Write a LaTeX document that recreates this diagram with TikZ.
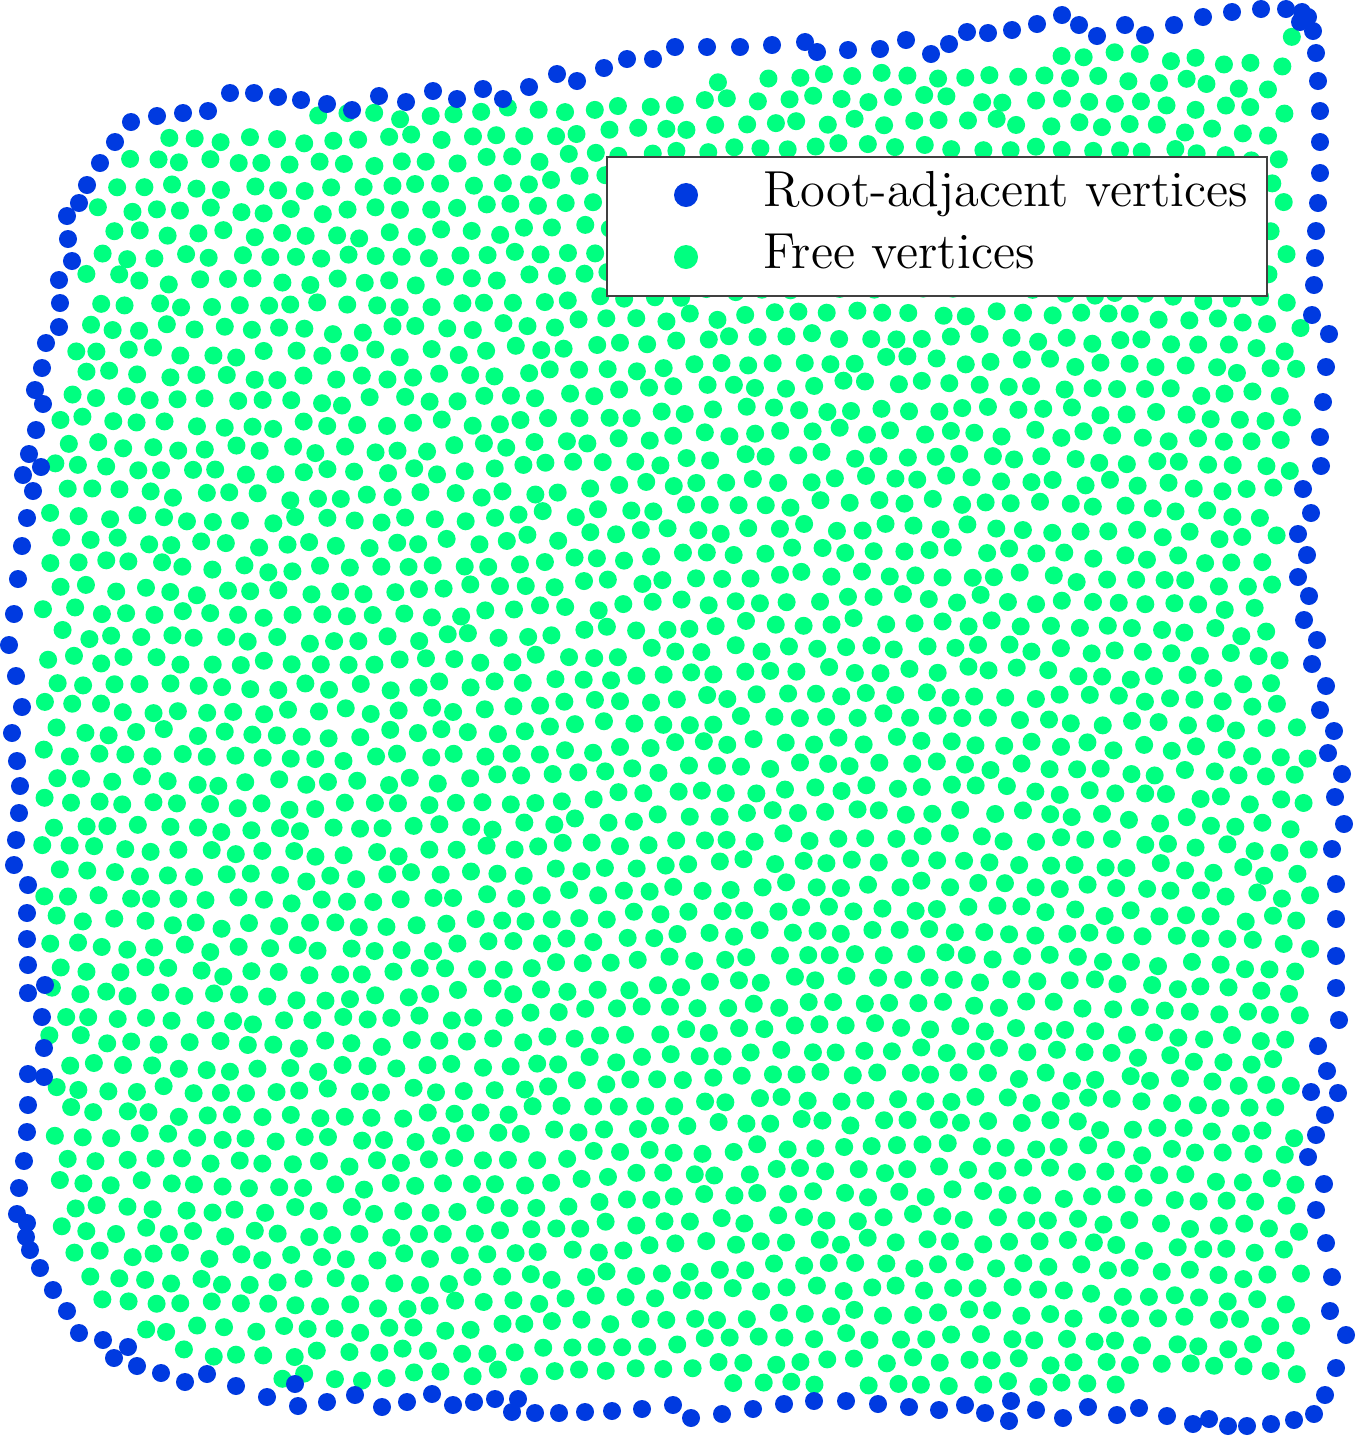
\documentclass[tikz,border=0pt]{standalone}
\usepackage{tikz}
\definecolor{rootblue}{RGB}{0,58,224}
\definecolor{freegreen}{RGB}{0,255,128}
\begin{document}
\begin{tikzpicture}[x=0.01cm, y=-0.01cm,
    rootdot/.style={fill=rootblue},
    freedot/.style={fill=freegreen},
    legendbox/.style={draw=black!75, fill=white, line width=0.6pt},
    legendtext/.style={anchor=base west, inner sep=0pt, font=\fontsize{14.4}{17}\selectfont}]
    \useasboundingbox (0,0) rectangle (1356,1436);
    \pgfmathsetseed{4711}

    \foreach \r in {0,...,58}{
      \foreach \c in {0,...,49}{
        \pgfmathsetmacro\gx{10 + 27.5*\c + 13.75*mod(\r,2)}
        \pgfmathsetmacro\gy{12 + 23.8*\r}
        \pgfmathsetmacro\jx{4.2*rand}
        \pgfmathsetmacro\jy{4.2*rand}
        \pgfmathsetmacro\px{\gx + \jx + 9*sin(0.35*\gy)}
        \pgfmathsetmacro\py{\gy + \jy + 9*sin(0.3*\gx)}
        \pgfmathsetmacro\xl{ifthenelse(\py<720, 12 + 2.24*((\py-720)/100)^2, 12 + 0.04*(\py-720))}
        \pgfmathsetmacro\xr{ifthenelse(\py<325, 1316, ifthenelse(\py<475, 1323, ifthenelse(\py<630, 1304, ifthenelse(\py<720, 1318, ifthenelse(\py<1035, 1337, ifthenelse(\py<1170, 1318, 1328))))))}
        \pgfmathtruncatemacro\ok{(\py > 100 - 0.0794*(\px-230) + 20) && (\py < 1402 + 0.01*(\px-300) - 22) && (\px > \xl + 22) && (\px < \xr - 22) && ((\px >= 230) || (\py >= 260) || (veclen((\px-230)/10, (\py-260)/10) < 14.6)) && ((\px >= 270) || (\py <= 1130) || (veclen((\px-270)/10, (\py-1130)/10) < 24.3))}
        \ifnum\ok=1
          \fill[freedot] (\px,\py) circle[radius=0.09cm];
        \fi
      }
    }

    \foreach \x/\y in {35/390, 42/368, 46/343, 59/327, 60/303, 59/280, 72/261, 68/239, 67/216, 79/203, 87/185, 100/163, 115/142, 131/122, 157/116, 183/113, 208/111, 230/93, 254/93, 278/97, 301/100, 327/104, 352/110, 379/96, 406/102, 433/91, 457/99, 483/89, 503/99, 529/87, 557/74, 577/81, 604/68, 627/59, 653/59, 675/47, 707/47, 740/47, 772/45, 805/42, 817/52, 848/50, 880/49, 906/40, 931/54, 949/44, 967/32, 988/33, 1012/30, 1037/24, 1062/15, 1079/25, 1097/36, 1125/25, 1145/35, 1174/25, 1203/17, 1232/12, 1261/9, 1286/9, 1302/12, 1308/17, 1300/22, 1313/31,
      1316/53, 1318/81, 1320/111, 1320/142, 1320/173, 1318/203, 1316/231, 1315/258, 1314/285, 1312/315, 1329/334, 1326/367, 1323/402, 1320/437, 1321/466, 1303/489, 1311/513, 1298/534, 1307/555, 1298/577, 1309/596, 1304/620, 1317/640, 1312/664, 1326/686, 1320/710, 1334/731, 1328/753, 1342/774, 1335/797, 1344/824, 1332/849, 1336/884, 1336/919, 1336/956, 1336/988, 1339/1020, 1318/1046, 1327/1071, 1311/1092, 1338/1093, 1325/1115, 1316/1135, 1308/1157, 1324/1184, 1316/1210, 1326/1243, 1332/1277, 1330/1311, 1346/1335, 1336/1368, 1325/1395, 1314/1414,
      1294/1420, 1271/1424, 1247/1426, 1228/1426, 1209/1419, 1193/1424, 1167/1416, 1139/1408, 1117/1415, 1088/1407, 1063/1418, 1036/1410, 1011/1401, 1009/1421, 985/1413, 965/1405, 939/1410, 909/1407, 878/1404, 846/1401, 814/1401, 784/1404, 753/1409, 722/1414, 691/1418, 673/1405, 642/1409, 612/1411, 585/1412, 559/1413, 535/1413, 512/1412, 518/1399, 495/1399, 474/1402, 453/1405, 432/1394, 407/1402, 382/1407, 355/1395, 327/1402, 298/1406, 295/1384, 267/1397, 236/1386, 207/1374, 185/1382, 161/1373, 137/1366, 114/1358, 128/1347, 103/1340, 79/1333, 67/1311, 53/1290, 40/1268, 30/1250, 26/1237, 27/1223, 17/1214, 19/1188, 24/1161, 27/1132, 28/1105,
      44/1077, 28/1074, 44/1048, 42/1017, 45/985, 28/993, 28/965, 27/939, 27/913, 28/885, 14/865, 16/840, 19/813, 20/786, 17/761, 12/733, 22/707, 16/676, 9/645, 14/614, 18/579, 22/546, 27/518, 33/491, 23/475, 41/467, 29/454, 36/430, 43/404}
      \fill[rootdot] (\x,\y) circle[radius=0.09cm];

    \draw[legendbox] (607,157) rectangle (1267,296);
    \fill[rootdot] (686,195) circle[radius=0.12cm];
    \fill[freedot] (686,257) circle[radius=0.12cm];
    \node[legendtext] (rootlabel) at (763,206) {Root-adjacent vertices};
    \node[legendtext] (freelabel) at (763,268) {Free vertices};
  \end{tikzpicture}
\end{document}
